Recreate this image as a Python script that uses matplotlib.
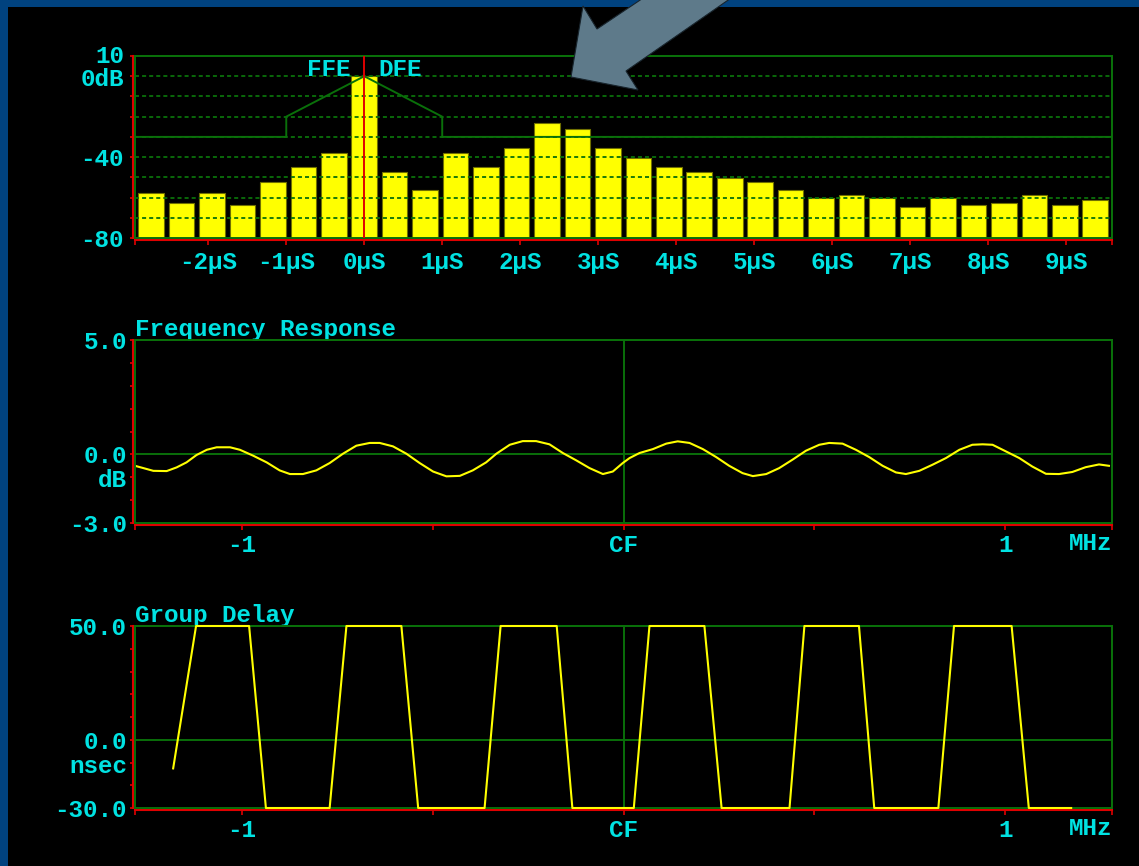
import matplotlib
matplotlib.use("Agg")
import matplotlib.pyplot as plt
from matplotlib.patches import Rectangle, Polygon
from matplotlib.transforms import ScaledTranslation

W, H, DPI = 1139, 866, 100

# ---- equalizer taps (dB), one symbol period apart ----
TAP_US = 1 / 2.56
tap_index = list(range(-7, 25))
tap_db = [-57.9, -62.8, -57.9, -63.6, -52.1, -44.8, -38.2, 0.0,
          -47.4, -56.5, -38.1, -44.8, -35.5, -23.0, -26.3, -35.5,
          -40.3, -44.8, -47.3, -50.3, -52.3, -56.2, -60.3, -58.7,
          -60.3, -64.6, -60.3, -63.6, -62.8, -58.7, -63.6, -61.1]
time_ticks = [-2, -1, 0, 1, 2, 3, 4, 5, 6, 7, 8, 9]
time_labels = ["-2µS", "-1µS", "0µS", "1µS", "2µS", "3µS", "4µS", "5µS",
               "6µS", "7µS", "8µS", "9µS"]

# FFE / DFE limit mask
mask_us = [-2.94, -1.0, -1.0, 0.0, 1.0, 1.0, 9.59]
mask_db = [-30, -30, -20, 0, -20, -30, -30]

# ---- frequency response (dB) ----
freq_mhz = [-1.280, -1.258, -1.232, -1.197, -1.171, -1.145, -1.119, -1.092, -1.066, -1.031,
            -1.005, -0.970, -0.935, -0.901, -0.874, -0.840, -0.805, -0.770, -0.735, -0.700,
            -0.665, -0.639, -0.604, -0.569, -0.534, -0.499, -0.464, -0.429, -0.395, -0.360,
            -0.333, -0.298, -0.264, -0.229, -0.194, -0.159, -0.124, -0.089, -0.054, -0.028,
            -0.002, 0.016, 0.042, 0.077, 0.112, 0.142, 0.173, 0.208, 0.243, 0.277,
            0.312, 0.339, 0.374, 0.408, 0.443, 0.478, 0.513, 0.539, 0.574, 0.609,
            0.644, 0.679, 0.714, 0.740, 0.775, 0.810, 0.845, 0.880, 0.914, 0.941,
            0.967, 1.002, 1.037, 1.071, 1.107, 1.141, 1.176, 1.211, 1.246, 1.272]
resp_db = [-0.50, -0.60, -0.72, -0.73, -0.57, -0.35, -0.03, 0.20, 0.31, 0.31,
           0.20, -0.06, -0.35, -0.70, -0.86, -0.86, -0.70, -0.38, 0.03, 0.38,
           0.50, 0.50, 0.35, 0.03, -0.38, -0.75, -0.96, -0.94, -0.70, -0.35,
           0.03, 0.42, 0.58, 0.58, 0.44, 0.06, -0.26, -0.60, -0.86, -0.75,
           -0.38, -0.16, 0.06, 0.23, 0.47, 0.57, 0.50, 0.23, -0.12, -0.50,
           -0.82, -0.95, -0.86, -0.60, -0.23, 0.16, 0.42, 0.50, 0.47, 0.20,
           -0.12, -0.50, -0.79, -0.86, -0.72, -0.45, -0.16, 0.20, 0.42, 0.44,
           0.42, 0.13, -0.16, -0.53, -0.85, -0.86, -0.77, -0.56, -0.44, -0.50]

# ---- group delay (ns), clipped to the display range ----
gd_mhz = [-1.180, -1.120, -0.981, -0.937, -0.770, -0.726, -0.582, -0.538, -0.364,
          -0.322, -0.175, -0.134, 0.027, 0.068, 0.212, 0.257, 0.435, 0.474,
          0.617, 0.657, 0.825, 0.866, 1.017, 1.062, 1.173]
gd_ns = [-12.6, 50, 50, -30, -30, 50, 50, -30, -30,
         50, 50, -30, -30, 50, 50, -30, -30, 50,
         50, -30, -30, 50, 50, -30, -30]

freq_ticks = [-1.28, -1.0, -0.5, 0.0, 0.5, 1.0, 1.28]
freq_labels = ["", "-1", "", "CF", "", "1", ""]

# ---- colours ----
BLUE_BG = "#00427f"
CYAN = "#00e2e2"
GREEN = "#0a700a"
RED = "#e00000"
YELLOW = "#ffff00"
ARROW = "#5e7a8a"
FS = 17.5

plt.rcParams["font.family"] = ["Liberation Mono", "DejaVu Sans Mono"]
plt.rcParams["font.weight"] = "bold"
plt.rcParams["lines.scale_dashes"] = False

fig = plt.figure(figsize=(W / DPI, H / DPI), dpi=DPI, facecolor=BLUE_BG)
fig.add_artist(Rectangle((8 / W, 0), (W - 8) / W, (H - 7) / H, transform=fig.transFigure,
                         facecolor="black", edgecolor="none", zorder=0))


def px_axes(x0, y0, x1, y1):
    return fig.add_axes([x0 / W, 1 - y1 / H, (x1 - x0) / W, (y1 - y0) / H])


def style(ax, xlim, ylim, xpad, ypad):
    ax.set_facecolor("none")
    ax.set_xlim(*xlim)
    ax.set_ylim(*ylim)
    for s in ("top", "right"):
        ax.spines[s].set_color(GREEN)
        ax.spines[s].set_linewidth(1.4)
    for s in ("left", "bottom"):
        ax.spines[s].set_color(RED)
        ax.spines[s].set_linewidth(1.5)
        ax.spines[s].set_position(("outward", 1.5))
    ax.add_patch(Rectangle((0, 0), 1, 1, transform=ax.transAxes, fill=False,
                           edgecolor=GREEN, lw=1.4, zorder=4, clip_on=False))
    ax.tick_params(axis="x", colors=RED, direction="out", length=3.6, width=1.2,
                   labelcolor=CYAN, labelsize=FS, pad=xpad)
    ax.tick_params(axis="y", colors=RED, direction="out", length=2.4, width=1.2,
                   labelcolor=CYAN, labelsize=FS, pad=ypad)


# ================= equalizer taps =================
ax1 = px_axes(135, 56, 1112, 238)
style(ax1, (-2.94, 9.59), (-80, 10), xpad=4.5, ypad=4.0)
tap_us = [k * TAP_US for k in tap_index]
ax1.bar(tap_us, [v + 80 for v in tap_db], bottom=-80, width=0.84 * TAP_US,
        color=YELLOW, edgecolor="#707000", linewidth=0.8, zorder=2)
for lvl in range(-70, 10, 10):
    ax1.axhline(lvl, color=GREEN, lw=1.3, ls=(0, (2.9, 2.2)), zorder=3)
ax1.plot(mask_us, mask_db, color=GREEN, lw=1.4, zorder=4)
ax1.axvline(0, color=RED, lw=1.4, zorder=5)
ax1.set_xticks([-2.94] + time_ticks + [9.59])
ax1.set_xticklabels([""] + time_labels + [""])
ax1.set_yticks(list(range(-80, 11, 10)))
ax1.set_yticklabels(["-80", "", "", "", "-40", "", "", "", "0dB", "10"])
# the two top labels sit close together; nudge them apart slightly
ylabs = ax1.get_yticklabels()
ylabs[-1].set_transform(ylabs[-1].get_transform() + ScaledTranslation(0, 2 / DPI, fig.dpi_scale_trans))
ylabs[-2].set_transform(ylabs[-2].get_transform() + ScaledTranslation(0, -1 / DPI, fig.dpi_scale_trans))
ax1.annotate("FFE", xy=(0, 0), xytext=(-10, 0), textcoords="offset points",
             ha="right", va="baseline", color=CYAN, fontsize=FS)
ax1.annotate("DFE", xy=(0, 0), xytext=(10, 0), textcoords="offset points",
             ha="left", va="baseline", color=CYAN, fontsize=FS)

# ================= frequency response =================
ax2 = px_axes(135, 340, 1112, 523)
style(ax2, (-1.28, 1.28), (-3, 5), xpad=2.5, ypad=2.0)
ax2.axhline(0, color=GREEN, lw=1.4, zorder=1)
ax2.axvline(0, color=GREEN, lw=1.4, zorder=1)
ax2.plot(freq_mhz, resp_db, color=YELLOW, lw=1.5, zorder=3)
ax2.set_xticks(freq_ticks)
ax2.set_xticklabels(freq_labels)
ax2.set_yticks(list(range(-3, 6)))
ax2.set_yticklabels(["-3.0", "", "", "0.0", "", "", "", "", "5.0"])
ax2.annotate("dB", xy=(0, -1.15), xycoords=("axes fraction", "data"),
             xytext=(-5.5, 0), textcoords="offset points", ha="right", va="center",
             color=CYAN, fontsize=FS)
ax2.annotate("MHz", xy=(1, 0), xycoords="axes fraction", xytext=(0, -6.3),
             textcoords="offset points", ha="right", va="top", color=CYAN, fontsize=FS)
ax2.annotate("Frequency Response", xy=(0, 1), xycoords="axes fraction", xytext=(0, 3),
             textcoords="offset points", ha="left", va="baseline", color=CYAN, fontsize=FS)

# ================= group delay =================
ax3 = px_axes(135, 626, 1112, 808)
style(ax3, (-1.28, 1.28), (-30, 50), xpad=2.5, ypad=2.0)
ax3.axhline(0, color=GREEN, lw=1.4, zorder=1)
ax3.axvline(0, color=GREEN, lw=1.4, zorder=1)
ax3.plot(gd_mhz, gd_ns, color=YELLOW, lw=1.5, zorder=5, clip_on=False)
ax3.set_xticks(freq_ticks)
ax3.set_xticklabels(freq_labels)
ax3.set_yticks(list(range(-30, 51, 10)))
ax3.set_yticklabels(["-30.0", "", "", "0.0", "", "", "", "", "50.0"])
ax3.annotate("nsec", xy=(0, -11.6), xycoords=("axes fraction", "data"),
             xytext=(-5.5, 0), textcoords="offset points", ha="right", va="center",
             color=CYAN, fontsize=FS)
ax3.annotate("MHz", xy=(1, 0), xycoords="axes fraction", xytext=(0, -6.3),
             textcoords="offset points", ha="right", va="top", color=CYAN, fontsize=FS)
ax3.annotate("Group Delay", xy=(0, 1), xycoords="axes fraction", xytext=(0, 3),
             textcoords="offset points", ha="left", va="baseline", color=CYAN, fontsize=FS)

# ================= pointer arrow =================
arrow_px = [(571, 77), (638, 90), (626, 71), (757, -20), (670, -20), (597, 29), (583, 6)]
fig.add_artist(Polygon([(x / W, 1 - y / H) for x, y in arrow_px], closed=True,
                       transform=fig.transFigure, facecolor=ARROW,
                       edgecolor="#18242c", lw=0.8, zorder=10))

fig.savefig("out.png", dpi=DPI, facecolor=BLUE_BG)
